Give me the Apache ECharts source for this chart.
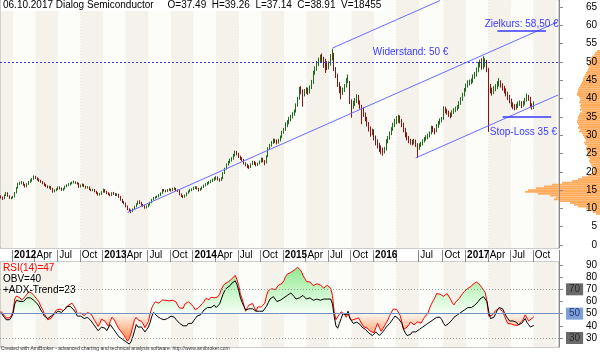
<!DOCTYPE html>
<html>
<head>
<meta charset="utf-8">
<script src="https://cdn.jsdelivr.net/npm/echarts@6/dist/echarts.min.js"></script>
<style>
html, body { margin: 0; padding: 0; background: #fff; }
#chart { width: 600px; height: 353px; }
</style>
</head>
<body>
<div id="chart"></div>
<script>
// weekly bars, first bar on Friday 18 Nov 2011, axis runs a few weeks past the last bar
const firstWeek = [2011, 10, 18]
const axisWeeks = 322

// [open, close, low, high]
const ohlc = [
  [13.3,13.0,12.7,13.6],[13.0,12.6,12.3,13.2],[12.6,13.6,12.5,13.8],[13.6,14.2,13.4,14.5],[14.2,13.4,13.2,14.4],
  [13.4,12.8,12.6,13.6],[12.8,12.9,12.5,13.2],[12.9,13.1,12.7,13.4],[13.1,14.3,13.0,14.5],[14.3,15.6,14.1,15.8],
  [15.6,16.8,15.4,17.0],[16.8,16.9,16.4,17.3],[16.9,17.1,16.6,17.5],[17.1,16.5,16.2,17.3],[16.5,16.0,15.7,16.7],
  [16.0,16.6,15.8,16.9],[16.6,17.2,16.4,17.5],[17.2,17.6,17.0,17.9],[17.6,18.0,17.3,18.3],[18.0,18.6,17.8,19.0],
  [18.6,18.3,18.0,18.9],[18.3,17.9,17.6,18.5],[17.9,17.6,17.3,18.2],[17.6,17.3,17.0,17.8],[17.3,16.9,16.6,17.5],
  [16.9,16.4,16.1,17.1],[16.4,16.1,15.8,16.7],[16.1,15.8,15.5,16.3],[15.8,15.9,15.4,16.2],[15.9,15.4,15.1,16.1],
  [15.4,14.6,14.3,15.6],[14.6,14.9,14.4,15.2],[14.9,15.2,14.7,15.5],[15.2,15.8,15.0,16.0],[15.8,15.5,15.2,16.0],
  [15.5,15.0,14.8,15.7],[15.0,15.4,14.8,15.6],[15.4,16.0,15.2,16.2],[16.0,16.4,15.8,16.6],[16.4,16.6,16.1,16.9],
  [16.6,16.8,16.3,17.1],[16.8,17.0,16.6,17.3],[17.0,17.2,16.8,17.6],[17.2,17.0,16.7,17.4],[17.0,16.8,16.5,17.2],
  [16.8,15.9,15.6,17.0],[15.9,16.3,15.7,16.5],[16.3,16.5,16.0,16.8],[16.5,16.0,15.8,16.7],[16.0,15.7,15.4,16.2],
  [15.7,15.8,15.4,16.1],[15.8,15.2,15.0,16.0],[15.2,15.0,14.7,15.4],[15.0,15.1,14.7,15.4],[15.1,14.6,14.4,15.3],
  [14.6,14.2,13.9,14.8],[14.2,13.8,13.5,14.4],[13.8,13.9,13.5,14.2],[13.9,14.5,13.7,14.7],[14.5,15.1,14.3,15.4],
  [15.1,14.6,14.3,15.3],[14.6,14.2,13.9,14.8],[14.2,13.9,13.6,14.4],[13.9,13.6,13.3,14.1],[13.6,14.2,13.4,14.4],
  [14.2,14.0,13.7,14.5],[14.0,13.7,13.4,14.2],[13.7,13.8,13.4,14.1],[13.8,13.2,12.9,14.0],[13.2,12.4,12.1,13.4],
  [12.4,11.8,11.5,12.6],[11.8,11.4,11.1,12.0],[11.4,10.6,10.3,11.6],[10.6,9.8,9.5,10.8],[9.8,9.5,9.1,10.0],
  [9.5,9.2,8.7,9.7],[9.2,9.8,9.0,10.0],[9.8,10.5,9.6,10.7],[10.5,11.2,10.3,11.4],[11.2,11.8,11.0,12.1],
  [11.8,11.6,11.2,12.2],[11.6,11.0,10.7,11.8],[11.0,10.7,10.4,11.2],[10.7,10.3,9.9,10.9],[10.3,10.5,10.0,10.8],
  [10.5,11.0,10.3,11.2],[11.0,11.6,10.8,11.8],[11.6,12.4,11.4,12.6],[12.4,12.9,12.2,13.1],[12.9,13.0,12.6,13.3],
  [13.0,13.2,12.8,13.5],[13.2,13.6,13.0,13.9],[13.6,14.1,13.4,14.4],[14.1,15.0,14.0,15.3],[15.0,14.9,14.6,15.3],
  [14.9,14.7,14.4,15.1],[14.7,15.0,14.5,15.3],[15.0,15.2,14.8,15.5],[15.2,14.9,14.6,15.4],[14.9,15.3,14.7,15.6],
  [15.3,15.4,15.0,15.8],[15.4,15.0,14.7,15.6],[15.0,14.8,14.5,15.2],[14.8,13.9,13.6,15.0],[13.9,13.4,13.1,14.1],
  [13.4,13.1,12.8,13.6],[13.1,13.5,12.9,13.8],[13.5,14.2,13.3,14.4],[14.2,14.6,14.0,14.9],[14.6,15.0,14.4,15.3],
  [15.0,15.2,14.7,15.5],[15.2,15.6,15.0,15.9],[15.6,15.8,15.3,16.1],[15.8,15.4,15.1,16.0],[15.4,15.0,14.6,15.6],
  [15.0,15.3,14.8,15.6],[15.3,15.8,15.1,16.0],[15.8,16.2,15.6,16.5],[16.2,16.6,16.0,16.9],[16.6,16.9,16.3,17.2],
  [16.9,17.2,16.6,17.5],[17.2,17.4,16.9,17.8],[17.4,17.8,17.2,18.1],[17.8,18.2,17.5,18.5],[18.2,18.4,17.8,18.8],
  [18.4,18.0,17.6,18.7],[18.0,17.7,17.3,18.2],[17.7,18.2,17.5,18.5],[18.2,19.6,18.0,19.9],[19.6,20.8,19.4,21.1],
  [20.8,22.0,20.6,22.3],[22.0,22.6,21.7,23.0],[22.6,23.2,22.3,23.6],[23.2,23.6,22.8,24.0],[23.6,24.5,23.3,24.9],
  [24.5,25.3,24.2,25.8],[25.3,25.0,24.5,25.7],[25.0,24.2,23.8,25.2],[24.2,23.6,23.2,24.4],[23.6,23.3,22.8,24.0],
  [23.3,22.4,22.0,23.5],[22.4,22.0,21.5,22.6],[22.0,21.5,21.0,22.2],[21.5,21.2,20.8,21.8],[21.2,22.0,21.0,22.3],
  [22.0,22.7,21.8,23.0],[22.7,22.3,21.9,23.0],[22.3,21.9,21.5,22.6],[21.9,22.2,21.6,22.5],[22.2,22.8,22.0,23.1],
  [22.8,23.6,22.5,23.9],[23.6,23.0,22.6,23.8],[23.0,22.5,21.8,23.2],[22.5,24.2,22.3,24.5],[24.2,26.4,24.0,26.7],
  [26.4,27.2,26.0,27.6],[27.2,28.0,26.9,28.4],[28.0,28.7,27.6,29.1],[28.7,28.4,27.9,29.0],[28.4,28.1,27.5,28.8],
  [28.1,28.6,27.7,29.0],[28.6,29.5,28.3,29.9],[29.5,30.8,29.2,31.2],[30.8,31.6,30.4,32.0],[31.6,33.0,31.2,33.5],
  [33.0,33.6,32.2,34.1],[33.6,34.5,33.0,35.0],[34.5,35.0,33.8,35.6],[35.0,35.8,34.6,36.3],[35.8,36.5,35.3,37.0],
  [36.5,38.2,36.2,38.7],[38.2,40.0,37.8,40.5],[40.0,42.6,39.7,43.2],[42.6,41.9,41.2,43.4],[41.9,41.2,37.8,42.5],
  [41.2,42.0,40.6,42.6],[42.0,42.5,41.3,43.1],[42.5,41.8,41.0,43.0],[41.8,43.0,41.4,43.6],[43.0,44.5,42.6,45.1],
  [44.5,47.0,44.0,47.6],[47.0,48.2,46.5,48.8],[48.2,49.6,47.6,50.3],[49.6,50.4,48.9,51.2],[50.4,51.2,49.7,52.0],
  [51.2,50.8,50.0,52.3],[50.8,50.2,48.4,51.4],[50.2,49.8,47.0,50.9],[49.8,48.6,47.8,50.2],[48.6,49.5,48.0,50.2],
  [49.5,51.0,49.0,52.2],[51.0,52.2,50.4,53.6],[52.2,48.0,47.5,52.5],[48.0,46.5,45.6,48.6],[46.5,44.0,43.2,46.8],
  [44.0,42.8,41.5,44.5],[42.8,41.6,39.8,43.4],[41.6,42.2,41.0,43.0],[42.2,43.4,41.8,44.0],[43.4,44.8,43.0,45.6],
  [44.8,46.0,44.2,46.6],[44.5,39.2,38.5,44.8],[39.2,37.8,34.8,39.8],[37.8,38.6,37.2,39.4],[38.6,39.5,38.0,40.2],
  [39.5,40.4,38.8,41.2],[40.4,39.0,38.4,41.0],[39.0,37.8,37.2,39.5],[37.8,37.2,33.0,38.3],[37.2,35.8,35.0,37.6],
  [35.8,34.6,33.8,36.2],[34.6,33.2,32.4,35.0],[33.2,32.0,31.0,33.6],[32.0,30.8,29.6,32.4],[30.8,31.2,30.0,31.8],
  [31.2,29.5,28.6,31.6],[29.5,28.4,27.2,29.9],[28.4,27.6,26.4,28.9],[27.6,26.8,25.4,27.9],[26.8,26.2,24.8,27.2],
  [26.2,25.6,24.4,26.6],[25.6,26.2,25.0,26.8],[26.2,28.4,25.8,28.9],[28.4,29.2,27.8,29.8],[29.2,30.5,28.8,31.0],
  [30.5,31.6,30.0,32.2],[31.6,32.8,31.2,33.4],[32.8,33.8,32.2,34.5],[33.8,34.2,33.0,35.2],[34.2,34.8,33.4,35.6],
  [34.8,33.8,33.2,35.4],[33.8,33.0,32.2,34.4],[33.0,31.6,30.8,33.4],[31.6,30.2,29.4,32.0],[30.2,29.4,28.6,30.8],
  [29.4,28.5,27.8,29.8],[28.5,28.2,27.4,29.0],[28.2,28.0,27.2,28.8],[28.0,28.4,27.5,29.0],[28.4,27.6,26.8,28.8],
  [27.6,26.8,23.8,27.8],[26.8,27.2,26.0,27.8],[27.2,27.6,26.8,28.2],[27.6,28.4,27.2,28.9],[28.4,29.0,28.0,29.5],
  [29.0,29.4,28.5,30.0],[29.4,29.8,28.9,30.4],[29.8,30.5,29.4,31.0],[30.5,32.0,30.2,32.6],[32.0,31.4,30.8,32.5],
  [31.4,31.0,30.2,31.9],[31.0,32.5,30.8,33.0],[32.5,33.3,32.0,33.9],[33.3,34.0,32.9,34.6],[34.0,34.4,33.5,35.0],
  [34.4,37.4,34.2,37.9],[37.4,36.8,36.0,37.8],[36.8,36.3,35.6,37.2],[36.3,35.8,35.0,36.7],[35.8,35.5,34.6,36.2],
  [35.5,36.2,35.0,36.8],[36.2,36.9,35.8,37.4],[36.9,37.2,36.3,37.8],[37.2,37.6,36.7,38.2],[37.6,38.8,37.2,39.3],
  [38.8,39.8,38.3,40.4],[39.8,41.0,39.4,41.6],[41.0,42.3,40.6,42.9],[42.3,43.5,41.9,44.1],[43.5,44.3,43.0,45.0],
  [44.3,44.5,43.6,45.2],[44.5,44.8,43.9,45.5],[44.8,46.0,44.3,46.6],[46.0,46.6,45.4,47.3],[46.6,47.8,46.0,48.5],
  [47.8,49.2,47.2,50.0],[49.2,49.8,48.5,50.6],[49.8,48.6,47.9,51.0],[48.6,49.2,48.0,51.6],[49.2,50.2,48.6,51.0],
  [50.2,48.0,47.2,50.6],[48.0,43.2,30.9,48.4],[43.2,42.4,41.4,44.0],[42.4,41.8,40.8,43.0],[41.8,42.6,41.2,43.4],
  [42.6,43.2,42.0,44.0],[43.2,44.0,42.6,44.8],[44.0,44.6,43.3,45.6],[44.6,43.8,43.0,45.0],[43.8,43.0,42.2,44.2],
  [43.0,42.3,41.4,43.5],[42.3,41.5,40.6,42.8],[41.5,40.5,39.6,41.9],[40.5,39.5,38.7,41.0],[39.5,38.6,37.6,40.0],
  [38.6,38.0,37.1,39.0],[38.0,37.6,36.8,38.5],[37.6,37.9,37.0,38.6],[37.9,38.6,37.4,39.2],[38.6,38.9,38.0,39.5],
  [38.9,38.2,37.4,39.3],[38.2,38.8,37.8,39.4],[38.8,39.6,38.3,40.2],[39.6,40.6,39.2,41.4],[40.6,40.2,39.4,41.0],
  [40.2,38.4,37.6,40.5],[38.4,37.5,37.0,38.7],[37.49,38.91,37.14,39.26]
]
const lastVolume = 18455

const rsi = [
  52,51.6,48.5,46.5,45,46.5,48.5,52,62,64.5,
  65.3,63,61.2,62.5,64,66,68,67,66.7,65,
  63.5,61.5,59.5,56,53.5,50,47.5,45,45.8,46.2,
  47.5,51,53,54.5,53.8,53,52.5,51.6,55,57,
  58.2,58.6,56.5,54,50,49.5,50.5,51.4,48.5,47.8,
  51,50.8,49.5,48.5,44.5,42,39.5,42,45.5,45.5,
  43.8,41.5,39.5,43.5,47.2,45.5,43.2,40,37.5,36,
  34,32,29.5,27.5,29.5,34,39.5,45,47,45,
  44,43.6,41.5,38.5,41,43.5,50,55,57.5,59.8,
  59,58.6,60,61.2,61.5,61,60,60.5,61,61,
  60,59.5,56.5,54.5,53.2,54.5,57.8,59.2,59.8,58.5,
  57.2,55.5,53.2,54,55,56.5,58.2,60,62.5,61.8,
  61.5,63.5,63.8,63,62.8,63.8,66,70,72.8,74.5,
  75.5,76.2,77.5,78.5,80,81.5,78,73,66,62,
  57,52,55,57.2,57.8,58.3,55,52,55.5,56.5,
  55.5,55,58.5,64.5,68.8,70.2,70.5,70.3,69.6,71,
  73.5,74.2,74.8,77,80.4,82.5,83.2,83.8,84.5,85.8,
  87.2,88.2,88.4,85,81.5,79,76.5,75.2,76,75.5,
  73,73.3,74.6,74.5,73.6,72.5,71,72.5,73.3,72.2,
  70.8,65,51.6,45,47.5,49.5,51.5,52.5,49.5,47,
  50.5,47,44.5,43.6,45.5,47,46.5,44,41.5,39.3,
  38.7,38.2,36.8,35.3,34.6,34.5,38.5,42,38.5,35.5,
  37.5,40,42.5,45,48.5,51.2,53.8,54,53.5,53,
  48.5,43,37,38,39,41,43.2,42,40.8,42,
  43.3,42.7,42.1,44.5,47,48.5,50.5,54.5,57.8,60.5,
  63,66.5,67.8,66,65,64.2,65.2,66.5,65,62,
  59,57.2,59.5,61,62.5,64,66.5,68.2,69.5,70.8,
  71.5,72.5,74.3,75.3,76,76,73.5,71.5,70.3,67.5,
  60,48,48.2,48.7,50.5,52.5,53.6,54.3,53,51.8,
  48.5,45,42,40.8,41.5,42,40.5,39.5,40.4,41.8,
  43.5,45.6,49,50.3,44,44.5,46.2,47.4413
]

const obv = [
  51,50,47,45,44,45,47,50,58,61,
  62,60,59,60,61,63,64,63,62,61,
  60,58,56,53,51,48,47,46,47,48,
  49,50,51,52,52,51,52,54,56,55,
  56,55,53,51,48,47,48,49,46,45,
  47,46,44,42,40,38,36,35,39,40,
  38,36,37,41,40,37,35,33,31,30,
  29,28,27,26,25,27,31,36,41,39,
  38,39,37,35,37,39,43,48,51,50,
  48,47,46,46,45,44,46,47,48,47,
  47,45,44,42,41,40,39,40,42,43,
  42,44,46,48,47,49,51,53,54,55,
  54,55,56,57,55,56,58,62,66,69,
  71,72,73,75,76,77,74,69,63,59,
  56,53,52,54,53,54,53,52,51,52,
  53,52,54,56,59,62,63,64,62,60,
  59,61,62,63,64,65,66,67,66,64,
  62,61,63,64,65,64,62,61,63,62,
  61,60,62,63,61,60,62,61,62,63,
  62,58,48,40,38,42,46,50,51,49,
  52,46,44,42,41,43,44,41,39,38,
  37,36,34,33,32,33,35,34,32,33,
  35,37,39,40,42,44,46,48,47,46,
  45,42,37,34,32,31,33,35,34,35,
  36,37,38,39,40,41,42,43,44,45,
  46,47,48,47,45,42,40,41,42,43,
  45,47,48,49,50,51,52,53,54,55,
  56,55,56,57,58,60,62,63,64,63,
  60,52,46,45,47,50,53,55,56,54,
  51,48,46,44,43,44,45,43,41,40,
  42,44,46,43,41,39,38,40.3361
]
const adxTrend = 23

// volume at price: [price, relative volume]
const volumeAtPrice = [
  [8.5,4],[9,7],[9.5,10],[10,14],[10.5,22],[11,26],[11.5,30],[12,40],[12.5,46],[13,44],
  [13.5,50],[14,62],[14.5,75],[15,72],[15.5,64],[16,56],[16.5,48],[17,38],[17.5,28],[18,22],
  [18.5,18],[19,12],[19.5,9],[20,7],[20.5,6],[21,7],[21.5,8],[22,9],[22.5,10],[23,11],
  [23.5,10],[24,12],[24.5,11],[25,12],[25.5,13],[26,12],[26.5,14],[27,13],[27.5,15],[28,16],
  [28.5,14],[29,15],[29.5,16],[30,17],[30.5,18],[31,21],[31.5,20],[32,22],[32.5,21],[33,22],
  [33.5,23],[34,23],[34.5,22],[35,22],[35.5,21],[36,20],[36.5,18],[37,20],[37.5,19],[38,20],
  [38.5,19],[39,21],[39.5,20],[40,20],[40.5,21],[41,23],[41.5,23],[42,22],[42.5,22],[43,21],
  [43.5,20],[44,19],[44.5,18],[45,17],[45.5,17],[46,16],[46.5,15],[47,14],[47.5,13],[48,12],
  [48.5,11],[49,12],[49.5,10],[50,11],[50.5,10],[51,9],[51.5,8],[52,6],[52.5,5],[53,3]
]

// chart annotations (price levels)
const resistance = 50
const target = 58.5
const stopLoss = 35
const trendSupport = [[73, 8.9], [321, 61.0]]
const trendUpper = [[191, 53.8], [253, 66.8]]
const trendLower = [[239, 23.8], [321, 41.0]]

const priceTicks = [0,5,10,15,20,25,30,35,40,45,50,55,60,65]
const rsiTicks = [30,40,50,60,70,80,90]
const monthNames = ['Jan','Feb','Mar','Apr','May','Jun','Jul','Aug','Sep','Oct','Nov','Dec']
const hiddenLabels = ['2016-04', '2018-01']

const weeks = []
for (let i = 0; i < axisWeeks; i++) {
    const d = new Date(Date.UTC(firstWeek[0], firstWeek[1], firstWeek[2] + 7 * i))
    weeks.push(d.toISOString().slice(0, 10))
}
const monthOf = i => +weeks[i].slice(5, 7) - 1
function quarterStart(i) {
    if (i === 0) return false
    const m = monthOf(i)
    return m !== monthOf(i - 1) && m % 3 === 0
}
const qStarts = weeks.map((w, i) => i).filter(quarterStart)

// alternating quarter shading
const bands = []
const edges = [0].concat(qStarts, [axisWeeks - 1])
for (let k = 0; k < edges.length - 1; k++) {
    bands.push([
        {xAxis: weeks[edges[k]], itemStyle: {color: k % 2 ? '#fcfcf9' : '#f4f2ea'}},
        {xAxis: weeks[edges[k + 1]]}
    ])
}

const last = ohlc[ohlc.length - 1]
const header = '06.10.2017 Dialog Semiconductor     O=' + last[0].toFixed(2) + '  H=' + last[3].toFixed(2) +
    '  L=' + last[2].toFixed(2) + '  C=' + last[1].toFixed(2) + '  V=' + lastVolume

const font = 'Arial'
const blue = '#3a3aff'
const priceMin = -0.82, priceMax = 66.94
const rsiMin = 22.6, rsiMax = 92.45

const xBase = {
    type: 'category',
    data: weeks,
    boundaryGap: true,
    axisLine: {show: false},
    axisTick: {show: false},
    axisLabel: {show: false},
    splitLine: {show: true, interval: (i) => quarterStart(i), lineStyle: {color: '#b4b4b4', type: [1, 2], width: 1}}
}

const rsiFill = new echarts.graphic.LinearGradient(0, 262, 0, 347, [
    {offset: 0, color: '#86e686'},
    {offset: 0.3, color: '#bdf3bd'},
    {offset: 0.6, color: '#f6fff6'},
    {offset: 0.61, color: '#fff6ee'},
    {offset: 0.9, color: '#ff9458'},
    {offset: 1, color: '#ff7f38'}
], true)

const chart = echarts.init(document.getElementById('chart'))
chart.setOption({
    animation: false,
    textStyle: {fontFamily: font},
    title: [
        {
            text: header, left: 1, top: 0, padding: [0, 3, 1, 2],
            backgroundColor: '#fff',
            textStyle: {fontSize: 10, fontWeight: 'normal', color: '#000', fontFamily: font}
        },
        {
            text: '{r|RSI(14)=' + Math.round(rsi[rsi.length - 1]) + '}\n{k|OBV=' + Math.round(obv[obv.length - 1]) +
                '}\n{k|+ADX-Trend=' + adxTrend + '}',
            left: 1, top: 262, padding: [1, 2],
            textStyle: {
                fontSize: 10, fontWeight: 'normal', lineHeight: 11,
                rich: {
                    r: {color: '#ff0000', fontSize: 10, fontFamily: font, lineHeight: 11},
                    k: {color: '#000', fontSize: 10, fontFamily: font, lineHeight: 11}
                }
            }
        },
        {
            text: 'Created with AmiBroker - advanced charting and technical analysis software. http://www.amibroker.com',
            left: 1, top: 346, padding: 0,
            textStyle: {fontSize: 5, fontWeight: 'normal', color: '#333', fontFamily: font}
        }
    ],
    grid: [
        {left: 0, top: 0, width: 559, height: 248, show: true, backgroundColor: '#fcfcf9', borderColor: '#9a9a9a', borderWidth: 1, outerBoundsMode: 'none'},
        {left: 0, top: 262, width: 559, height: 85, show: true, backgroundColor: '#fcfcf9', borderColor: '#9a9a9a', borderWidth: 1, outerBoundsMode: 'none'},
        {left: 360, top: 0, width: 240, height: 248, show: false, outerBoundsMode: 'none'}
    ],
    xAxis: [
        Object.assign({}, xBase, {gridIndex: 0}),
        Object.assign({}, xBase, {
            gridIndex: 1,
            position: 'top',
            axisTick: {show: true, interval: (i, v) => quarterStart(i) && v.slice(0, 4) !== '2018', length: 12, lineStyle: {color: '#8a8a8a'}},
            axisLabel: {
                show: true,
                interval: (i, v) => quarterStart(i) && hiddenLabels.indexOf(v.slice(0, 7)) < 0,
                formatter: (v) => {
                    const m = +v.slice(5, 7) - 1
                    return m === 0 ? '{y|' + v.slice(0, 4) + '}' : monthNames[m]
                },
                align: 'left', margin: 2, padding: [0, 0, 0, 1],
                fontSize: 10, color: '#000', fontFamily: font,
                rich: {y: {fontWeight: 'bold', fontSize: 10, fontFamily: font, color: '#000'}}
            }
        }),
        {gridIndex: 2, type: 'value', inverse: true, min: 0, max: 240, show: false}
    ],
    yAxis: [
        {
            gridIndex: 0, type: 'value', position: 'right', min: priceMin, max: priceMax, z: 5,
            axisLine: {show: true, lineStyle: {color: '#8a8a8a'}},
            axisTick: {show: true, customValues: priceTicks, length: 4, lineStyle: {color: '#8a8a8a'}},
            axisLabel: {customValues: priceTicks, align: 'right', margin: 38, fontSize: 10, color: '#000', fontFamily: font},
            splitLine: {show: false}
        },
        {
            gridIndex: 1, type: 'value', position: 'right', min: rsiMin, max: rsiMax, z: 5,
            axisLine: {show: true, lineStyle: {color: '#8a8a8a'}},
            axisTick: {show: true, customValues: rsiTicks, length: 4, lineStyle: {color: '#8a8a8a'}},
            axisLabel: {customValues: rsiTicks, align: 'right', margin: 38, fontSize: 10, color: '#000', fontFamily: font},
            splitLine: {show: false}
        },
        {gridIndex: 2, type: 'value', min: priceMin, max: priceMax, show: false}
    ],
    series: [
        {
            name: 'bandsPrice', type: 'line', xAxisIndex: 0, yAxisIndex: 0, data: [], z: 0, silent: true,
            markArea: {silent: true, data: bands}
        },
        {
            name: 'bandsRsi', type: 'line', xAxisIndex: 1, yAxisIndex: 1, data: [], z: 0, silent: true,
            markArea: {silent: true, data: bands}
        },
        {
            name: 'profile', type: 'custom', xAxisIndex: 2, yAxisIndex: 2, z: 1, silent: true,
            data: volumeAtPrice,
            encode: {x: 1, y: 0},
            renderItem: (params, api) => {
                const p = api.value(0), v = api.value(1)
                const a = api.coord([v, p + 0.25])
                const b = api.coord([0, p - 0.25])
                return {type: 'rect', shape: {x: a[0], y: a[1], width: b[0] - a[0], height: b[1] - a[1]}, style: {fill: '#ffab5c'}}
            }
        },
        {
            name: 'Dialog', type: 'candlestick', xAxisIndex: 0, yAxisIndex: 0, z: 3,
            data: ohlc,
            barWidth: 1,
            itemStyle: {color: '#2a9a2a', color0: '#d41c1c', borderColor: '#1d6b1d', borderColor0: '#8c1212', borderWidth: 1},
            markLine: {
                silent: true, symbol: 'none', animation: false,
                data: [
                    {yAxis: resistance, lineStyle: {color: '#3a3ae0', type: [2, 2], width: 1}, label: {show: false}},
                    [{coord: trendSupport[0]}, {coord: trendSupport[1]}],
                    [{coord: trendUpper[0]}, {coord: trendUpper[1]}],
                    [{coord: trendLower[0]}, {coord: trendLower[1]}],
                    [{coord: [286, target], lineStyle: {width: 1.5, color: blue}}, {coord: [314, target]}],
                    [{coord: [289, stopLoss], lineStyle: {width: 1.5, color: blue}}, {coord: [317, stopLoss]}],
                    {
                        yAxis: last[1], lineStyle: {opacity: 0},
                        label: {
                            show: true, position: 'end', distance: 2,
                            formatter: '{a|◀}{b|' + last[1].toFixed(2) + '}',
                            rich: {
                                a: {color: '#000', fontSize: 9, fontFamily: 'DejaVu Sans'},
                                b: {backgroundColor: '#000', color: '#fff', fontSize: 10, fontFamily: font, padding: [1, 3, 1, 3]}
                            }
                        }
                    }
                ],
                lineStyle: {color: '#6b6bff', type: 'solid', width: 1},
                label: {show: false}
            },
            markPoint: {
                silent: true, symbol: 'rect', symbolSize: 0,
                label: {show: true, position: 'inside', color: blue, fontSize: 10, fontFamily: font},
                data: [
                    {coord: [236, 52.6], label: {formatter: 'Widerstand: 50 €'}},
                    {coord: [300, 60.3], label: {formatter: 'Zielkurs: 58,50 €'}},
                    {coord: [301, 30.9], label: {formatter: 'Stop-Loss 35 €'}}
                ]
            }
        },
        {
            name: 'OBV', type: 'line', xAxisIndex: 1, yAxisIndex: 1, z: 3,
            data: obv, symbol: 'none',
            lineStyle: {color: '#000', width: 1}
        },
        {
            name: 'RSI', type: 'line', xAxisIndex: 1, yAxisIndex: 1, z: 2,
            data: rsi, symbol: 'none',
            lineStyle: {color: '#ff0000', width: 1},
            areaStyle: {origin: 50, color: rsiFill, opacity: 1},
            markLine: {
                silent: true, symbol: 'none', animation: false,
                label: {show: true, position: 'end', distance: 7, fontSize: 10, fontFamily: font},
                data: [
                    {yAxis: 70, lineStyle: {color: '#9a9a9a', type: [1, 2], width: 1},
                        label: {formatter: '70', backgroundColor: '#6a6a6a', color: '#2a2a2a', padding: [1, 3]}},
                    {yAxis: 50, lineStyle: {color: '#7290c0', type: 'solid', width: 1},
                        label: {formatter: '50', backgroundColor: '#7e9fd8', color: '#233a6a', padding: [1, 3]}},
                    {yAxis: 30, lineStyle: {color: '#9a9a9a', type: [1, 2], width: 1},
                        label: {formatter: '30', backgroundColor: '#6a6a6a', color: '#2a2a2a', padding: [1, 3]}},
                    {yAxis: rsi[rsi.length - 1], lineStyle: {opacity: 0},
                        label: {distance: 0, formatter: '{a|◀}{b|' + rsi[rsi.length - 1].toFixed(4) + '}',
                            rich: {
                                a: {color: '#ff0000', fontSize: 9, fontFamily: 'DejaVu Sans'},
                                b: {backgroundColor: '#ff0000', color: '#000', fontSize: 10, fontFamily: font, padding: [1, 2, 1, 2]}
                            }}},
                    {yAxis: obv[obv.length - 1], lineStyle: {opacity: 0},
                        label: {distance: 3, formatter: obv[obv.length - 1].toFixed(4), backgroundColor: '#000', color: '#fff', padding: [1, 2, 1, 2]}}
                ]
            }
        }
    ]
})
</script>
</body>
</html>
